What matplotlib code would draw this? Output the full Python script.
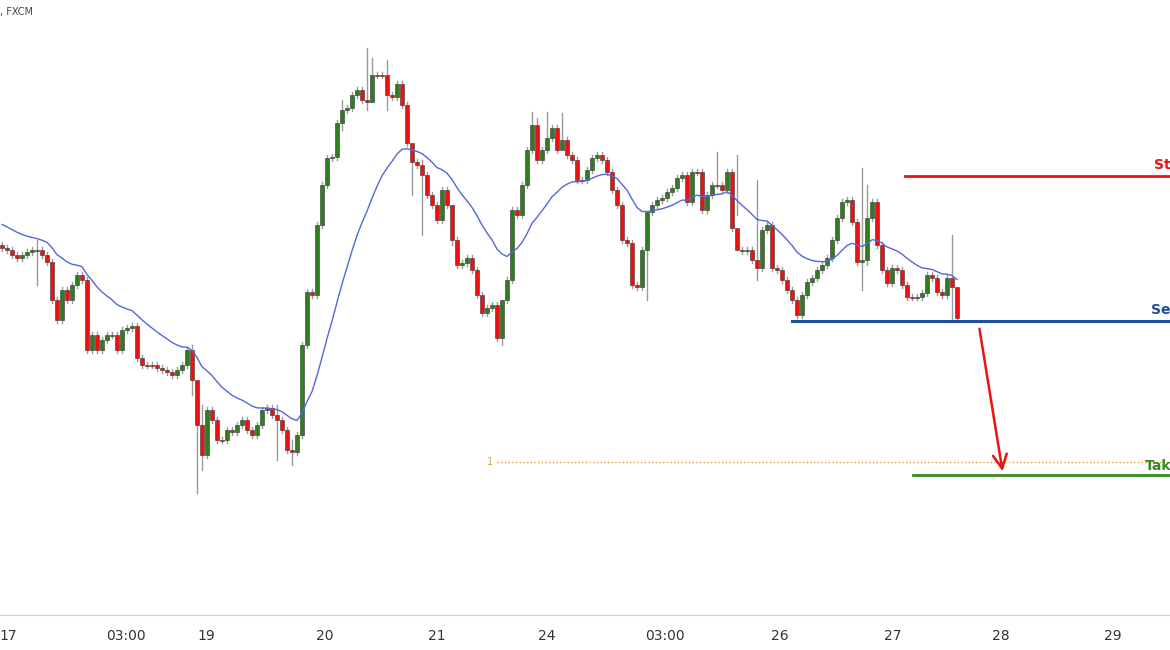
import matplotlib.pyplot as plt
import numpy as np

# price levels in screen units (larger = lower price); one candle every 5 px
first_open = 245
closes = [248, 250, 255, 258, 255, 252, 250, 250, 255, 262, 300, 320, 290, 300, 285, 275, 280, 350, 335, 350,
          340, 335, 335, 350, 330, 328, 326, 358, 365, 365, 365, 368, 370, 372, 375, 370, 365, 350, 380, 425,
          455, 410, 420, 440, 440, 430, 432, 425, 420, 430, 435, 425, 410, 408, 415, 420, 430, 450, 452, 435,
          345, 292, 295, 225, 185, 158, 157, 123, 110, 108, 95, 90, 100, 102, 75, 75, 75, 95, 97, 84,
          105, 143, 162, 165, 175, 195, 205, 220, 190, 205, 240, 265, 263, 258, 270, 295, 313, 308, 305,
          338, 300, 280, 210, 215, 185, 150, 125, 160, 150, 138, 128, 150, 140, 155, 160, 180,
          180, 170, 158, 155, 160, 172, 190, 205, 240, 243, 285, 287, 250, 212, 205, 200, 198, 192, 188, 178,
          175, 202, 172, 172, 210, 195, 185, 185, 190, 172, 228, 250, 251, 250, 260, 268, 230, 225, 268, 270,
          280, 290, 300, 315,
          295, 282, 278, 270, 265, 258, 240, 218, 202, 200, 222, 262, 260, 218, 202, 245, 270, 283, 268, 270,
          285, 297, 297, 297, 293, 275, 278, 292, 295, 278, 287, 318]
# notable wicks: candle index -> (high, low) in the same units, None = short wick
long_wicks = {7: (240, 285), 38: (345, 395), 39: (395, 493), 40: (405, 470), 55: (405, 460), 58: (440, 465),
              68: (100, 130), 73: (48, 110), 74: (58, 90), 77: (60, 110), 82: (150, 195), 84: (160, 235),
              90: (210, 245), 100: (300, 345), 106: (112, None), 107: (118, None), 109: (112, None),
              112: (113, 140), 129: (230, 300), 143: (152, None), 147: (155, 215), 151: (180, 280),
              172: (168, 290), 173: (185, 265), 190: (235, 322), 191: (305, 320)}
ema_start = 222
date_labels = ['17', '03:00', '19', '20', '21', '24', '03:00', '26', '27', '28', '29']
date_pos_px = [8, 126, 206, 325, 437, 547, 665, 780, 893, 1001, 1113]
stop_level, sell_level, target_level, dotted_level = 176, 321, 475, 462

opens = [first_open] + closes[:-1]
alpha = 2 / (20 + 1)
ema = []
e = ema_start
for c in closes:
    e = e + alpha * (c - e)
    ema.append(e)

fig = plt.figure(figsize=(11.7, 6.5), dpi=100)
ax = fig.add_axes([0, 35 / 650, 1, 615 / 650])
ax.set_xlim(0, 1170)
ax.set_ylim(615, 0)

xs = np.arange(len(closes)) * 5 + 2
for i, (x, o, c) in enumerate(zip(xs, opens, closes)):
    top, bot = min(o, c), max(o, c)
    hi, lo = long_wicks.get(i, (None, None))
    hi = top - 3 if hi is None else hi
    lo = bot + 3 if lo is None else lo
    ax.plot([x, x], [hi, lo], color='#9a9a9a', lw=1, zorder=1)
    col = '#2e7d1f' if c < o else '#ee1111'
    ax.add_patch(plt.Rectangle((x - 2, top), 4, max(bot - top, 1), facecolor=col,
                               edgecolor='#333333', lw=0.4, zorder=2))
ax.plot(xs, ema, color='#5566dd', lw=1, zorder=3)

ax.plot([905, 1170], [stop_level] * 2, color='#ee1111', lw=2)
ax.plot([792, 1170], [sell_level] * 2, color='#1c4fa0', lw=2.2)
ax.plot([913, 1170], [target_level] * 2, color='#3a8a22', lw=2)
ax.plot([497, 1170], [dotted_level] * 2, color='#e0a030', lw=1, ls=':')
ax.text(493, dotted_level, '1', color='#e0a030', fontsize=7, va='center', ha='right')
ax.annotate('', xy=(1003, 474), xytext=(979, 326),
            arrowprops=dict(arrowstyle='->', color='#ee1111', lw=1.8, mutation_scale=25))
ax.text(1154, stop_level - 4, 'St', color='#ee1111', fontsize=10, fontweight='bold', va='bottom')
ax.text(1151, sell_level - 4, 'Se', color='#1c4fa0', fontsize=10, fontweight='bold', va='bottom')
ax.text(1145, dotted_level + 4, 'Tak', color='#3a8a22', fontsize=10, fontweight='bold', va='center')
fig.text(0.0, 1 - 12 / 650, ', FXCM', color='#444444', fontsize=7, va='center')

for s in ['top', 'right', 'left']:
    ax.spines[s].set_visible(False)
ax.spines['bottom'].set_color('#cccccc')
ax.set_yticks([])
ax.set_xticks(date_pos_px)
ax.set_xticklabels(date_labels, fontsize=10, color='#333333')
ax.tick_params(axis='x', length=0, pad=10)
fig.savefig('out.png')
